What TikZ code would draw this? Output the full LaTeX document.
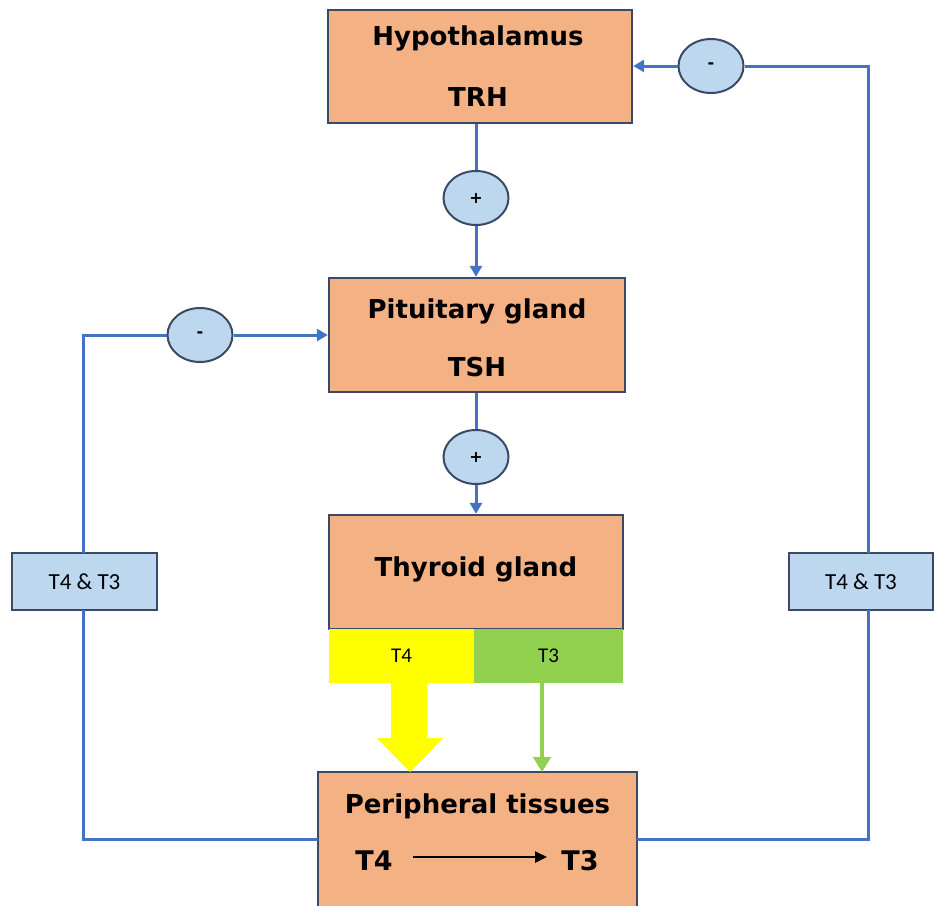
\documentclass[tikz,border=0pt]{standalone}
\usepackage{fontspec}
\setmainfont{DejaVu Sans}
\newfontfamily\calfont{Carlito}
\usetikzlibrary{arrows.meta,shapes.geometric}
\definecolor{boxfill}{HTML}{F4B183}
\definecolor{boxline}{HTML}{3A4A66}
\definecolor{conn}{HTML}{4472C4}
\definecolor{ellfill}{HTML}{BDD7EE}
\definecolor{ylw}{HTML}{FFFF00}
\definecolor{grn}{HTML}{92D050}
\tikzset{
  organ/.style={rectangle, fill=boxfill, draw=boxline, line width=2.4pt, inner sep=0pt},
  band/.style={rectangle, inner sep=0pt, minimum height=54pt, font=\calfont\fontsize{21}{24}\selectfont},
  sidebox/.style={rectangle, fill=ellfill, draw=boxline, line width=2.2pt, inner sep=0pt, minimum width=145pt, minimum height=57pt, font=\calfont\fontsize{23}{26}\selectfont},
  sign/.style={ellipse, fill=ellfill, draw=boxline, line width=2pt, inner sep=0pt, minimum width=65pt, minimum height=54pt, font=\bfseries\fontsize{16}{18}\selectfont},
  bigtext/.style={anchor=base, inner sep=0pt, font=\bfseries\fontsize{26}{30}\selectfont},
  conline/.style={draw=conn, line width=3pt},
  conarrow/.style={conline, -{Triangle[length=11pt,width=12pt]}},
}
\begin{document}
\begin{tikzpicture}[x=1pt,y=-1pt]
\useasboundingbox[fill=white] (0,0) rectangle (934,906);

% organ boxes
\node[organ, minimum width=304pt, minimum height=113pt] (hyp) at (480,66.5) {};
\node[organ, minimum width=296pt, minimum height=114pt] (pit) at (477,335) {};
\node[organ, minimum width=294pt, minimum height=114pt] (thy) at (476,572) {};
\node[rectangle, fill=boxfill, inner sep=0pt, minimum width=319pt, minimum height=134pt] (per) at (477.5,839) {};
\draw[boxline, line width=2.4pt] (per.south west) -- (per.north west) -- (per.north east) -- (per.south east);

% texts
\node[bigtext] (hyptxt) at (478,45) {Hypothalamus};
\node[bigtext] (trh) at (478,106) {TRH};
\node[bigtext] (pittxt) at (477,318) {Pituitary gland};
\node[bigtext] (tsh) at (477,376) {TSH};
\node[bigtext] (thytxt) at (476,576) {Thyroid gland};
\node[bigtext] (pertxt) at (477.5,813) {Peripheral tissues};
\node[bigtext, font=\bfseries\fontsize{27}{30}\selectfont] (pt4) at (374,870) {T4};
\node[bigtext, font=\bfseries\fontsize{27}{30}\selectfont] (pt3) at (580,870) {T3};
\coordinate (arrs) at (413,857);
\coordinate (arre) at (547,857);
\draw[black, line width=2.4pt, -{Triangle[length=12pt,width=11pt]}] (arrs) -- (arre);

% hormone bands
\node[band, fill=ylw, minimum width=145pt] (t4) at (401.5,656) {T4};
\node[band, fill=grn, minimum width=149pt] (t3) at (548.5,656) {T3};

% yellow fat arrow
\fill[ylw] (391,683) -- (427,683) -- (427,738) -- (443,738) -- (410,772) -- (377,738) -- (391,738) -- cycle;
% green arrow
\draw[grn, line width=3.6pt, -{Triangle[length=15pt,width=17pt]}] ([xshift=-6.5pt]t3.south) -- ++(0,89);

% sign ellipses
\node[sign] (plus1) at (476,198) {+};
\node[sign] (plus2) at (476,457) {+};
\node[sign] (minL) at (200,335) {-};
\node[sign] (minR) at (711,66) {-};

% side boxes
\node[sidebox] (lbox) at (84.5,581.5) {T4 \& T3};
\node[sidebox, minimum width=144pt] (rbox) at (861,581.5) {T4 \& T3};
\coordinate (rtop) at (868,553);
\coordinate (rbot) at (868,610);
\coordinate (ltop) at (83,553);
\coordinate (lbot) at (83,610);

% connectors
\draw[conline] (hyp.south -| plus1) -- (plus1);
\draw[conarrow] (plus1) -- (pit.north -| plus1);
\draw[conline] (pit.south -| plus2) -- (plus2);
\draw[conarrow] (plus2) -- (thy.north -| plus2);

\draw[conline] (per.west) -| (lbot);
\draw[conline] (ltop) |- (minL);
\draw[conarrow] (minL) -- (pit.west |- minL);

\draw[conline] (per.east) -| (rbot);
\draw[conline] (rtop) |- (minR);
\draw[conarrow] (minR) -- (hyp.east |- minR);
\end{tikzpicture}
\end{document}
